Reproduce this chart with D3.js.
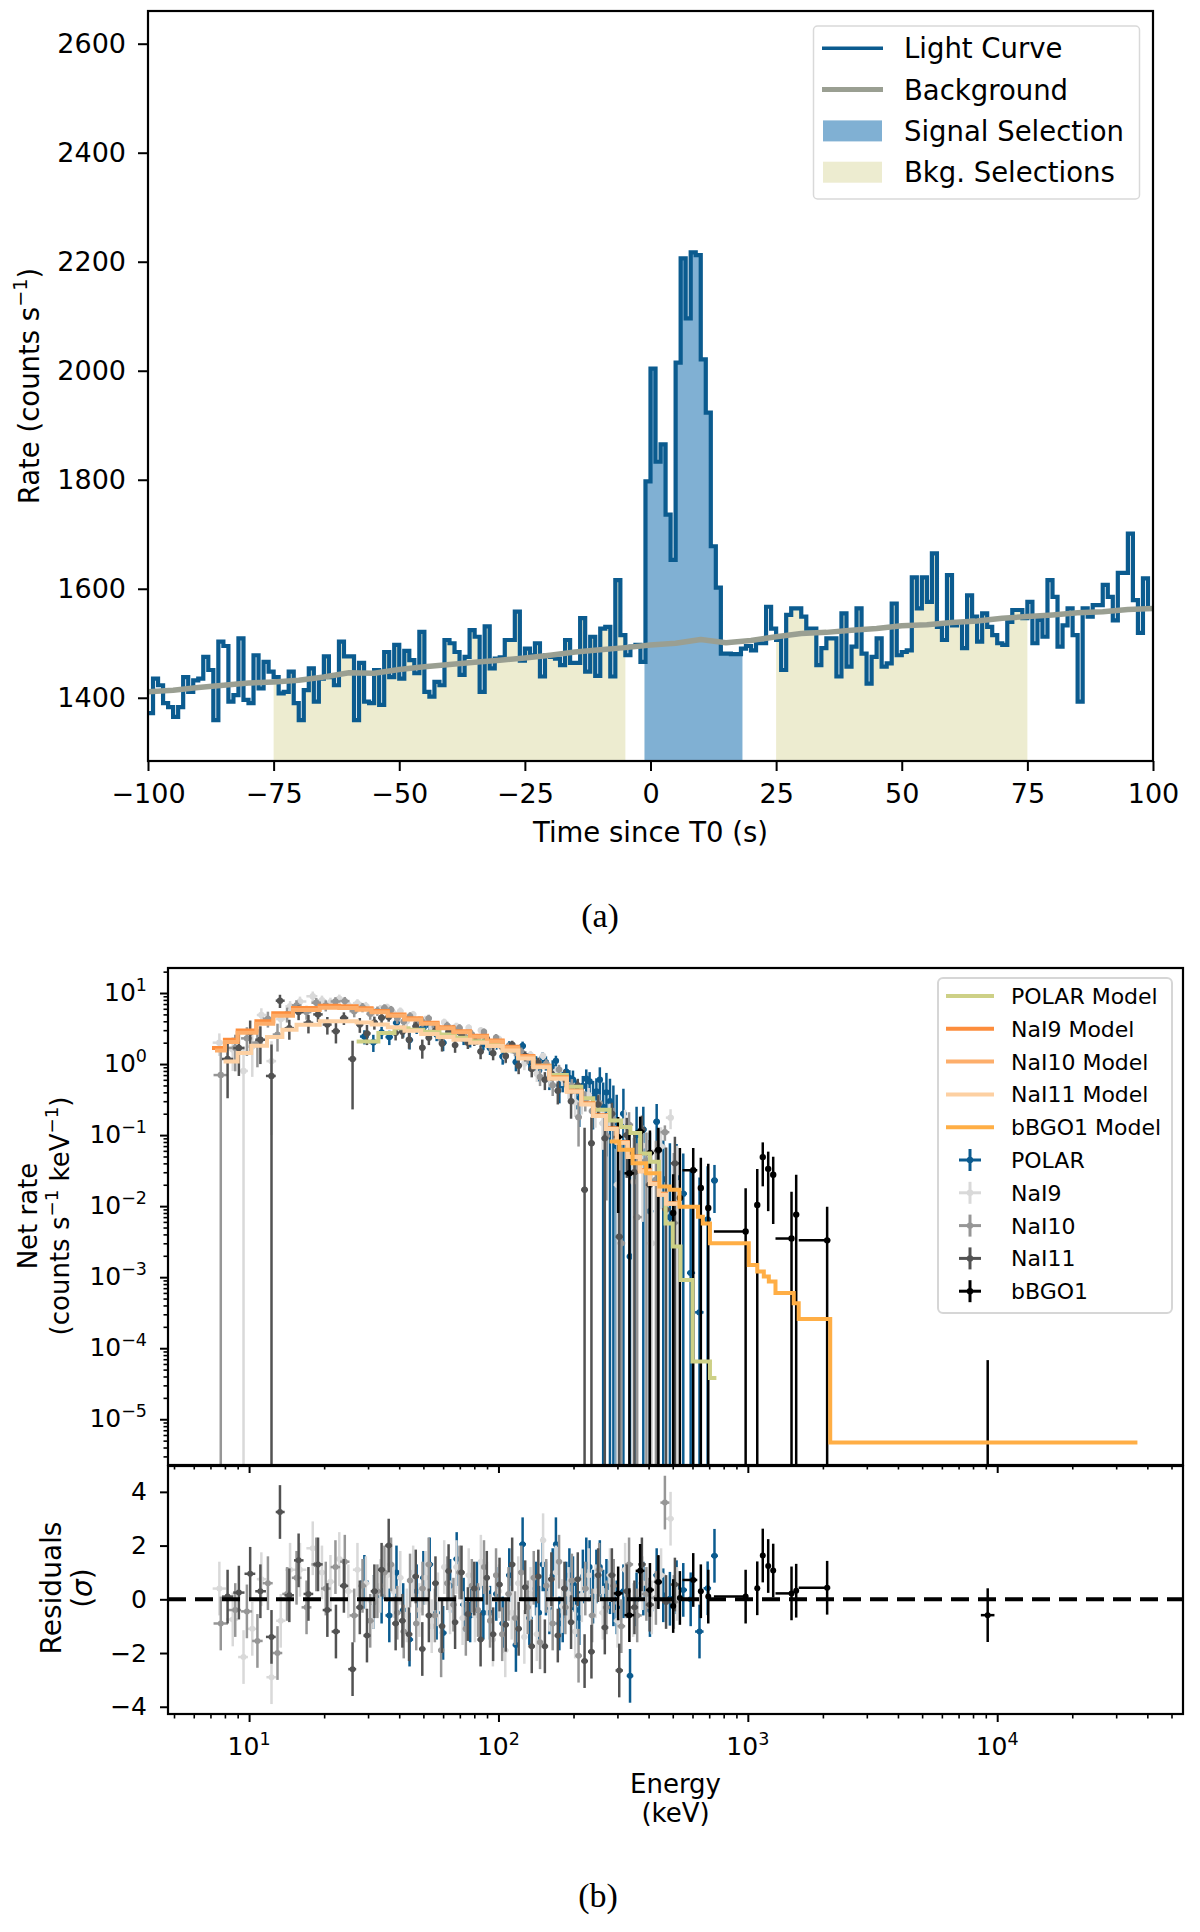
<!DOCTYPE html>
<html>
<head>
<meta charset="utf-8">
<script src="https://cdn.jsdelivr.net/npm/d3@7"></script>
<style>
  body { margin: 0; background: #fff; }
  svg { display: block; }
  text { font-family: "DejaVu Sans", sans-serif; fill: #000; }
  .caption { font-family: "Liberation Serif", "Times New Roman", serif; }
</style>
</head>
<body>
<svg id="fig" width="1200" height="1932"></svg>
<script>
// ---------------- panel (a): light curve ----------------
const lcStart = -100;      // first bin edge (s)
const lcBinWidth = 1;      // s
const lcRate = [
  1372, 1435, 1423, 1390, 1383, 1365, 1383, 1438, 1411, 1432,
  1435, 1475, 1451, 1359, 1503, 1495, 1393, 1405, 1509, 1396,
  1390, 1478, 1417, 1466, 1448, 1438, 1408, 1411, 1448, 1390,
  1359, 1414, 1454, 1393, 1435, 1476, 1438, 1423, 1503, 1476,
  1476, 1359, 1464, 1393, 1390, 1451, 1387, 1484, 1438, 1497,
  1435, 1486, 1469, 1445, 1521, 1411, 1402, 1429, 1423, 1506,
  1500, 1484, 1442, 1475, 1524, 1512, 1411, 1531, 1454, 1472,
  1474, 1506, 1506, 1558, 1468, 1490, 1478, 1500, 1439, 1478,
  1475, 1472, 1460, 1506, 1464, 1464, 1546, 1448, 1512, 1440,
  1527, 1530, 1439, 1616, 1515, 1478, 1494, 1497, 1466, 1797,
  2004, 1833, 1865, 1736, 1653, 2015, 2206, 2096, 2217, 2212,
  2021, 1923, 1678, 1602, 1481, 1481, 1480, 1480, 1490, 1495,
  1487, 1500, 1500, 1567, 1527, 1506, 1451, 1552, 1564, 1564,
  1549, 1527, 1527, 1460, 1491, 1509, 1509, 1439, 1555, 1457,
  1494, 1564, 1481, 1426, 1475, 1509, 1457, 1463, 1573, 1478,
  1484, 1487, 1621, 1564, 1621, 1576, 1665, 1530, 1506, 1625,
  1533, 1539, 1491, 1588, 1549, 1503, 1555, 1530, 1515, 1500,
  1497, 1539, 1561, 1561, 1546, 1576, 1500, 1543, 1512, 1616,
  1585, 1494, 1533, 1564, 1515, 1393, 1564, 1549, 1570, 1570,
  1607, 1585, 1542, 1629, 1629, 1701, 1579, 1519, 1619, 1564
];
const bgTime = [-100, -95, -90, -85, -80, -75, -70, -65, -60, -55, -50, -45, -40, -35, -30, -25, -20, -15, -10, -5,
  0, 5, 10, 15, 20, 25, 30, 35, 40, 45, 50, 55, 60, 65, 70, 75, 80, 85, 90, 95, 100];
const bgRate = [1411, 1414, 1419, 1423, 1427, 1429, 1432, 1438, 1446, 1445, 1452, 1457, 1461, 1465, 1469, 1473, 1478, 1484, 1488, 1492,
  1497, 1500, 1507, 1501, 1505, 1512, 1518, 1520, 1524, 1527, 1532, 1534, 1538, 1541, 1546, 1549, 1552, 1556, 1558, 1562, 1564];
const signalSelection = [-1.2, 18.3];
const bkgSelections = [[-75, -5], [25, 75]];
const timeTicks = [-100, -75, -50, -25, 0, 25, 50, 75, 100];
const rateTicks = [1400, 1600, 1800, 2000, 2200, 2400, 2600];

// ---------------- panel (b): count spectra ----------------
// rows: [energy keV, net rate, rate error, residual sigma]
const polarData = [
  [29, 2.44, 0.55, 0.65], [31.5, 2.03, 0.55, -0.1], [34, 2.79, 0.55, 0.1], [36.5, 2.4, 0.55, -0.6],
  [39, 3.8, 0.6, 1.0], [41.5, 2.96, 0.6, -0.4], [44, 2.18, 0.58, -1.5], [47, 3.2, 0.55, 0.3],
  [50, 3.27, 0.53, 0.8], [53, 3.53, 0.52, 1.3], [56.5, 2.6, 0.5, -0.5], [60, 2.0, 0.48, -1.25],
  [64, 2.83, 0.46, 0.5], [68, 3.0, 0.44, 1.5], [72.5, 2.27, 0.42, -0.2], [77, 2.11, 0.4, -0.6],
  [82, 2.25, 0.38, 0.4], [87, 1.92, 0.36, -0.5], [92.5, 1.68, 0.34, -0.5], [98, 1.91, 0.32, 0.2],
  [104, 1.28, 0.3, -0.9], [110.5, 1.81, 0.29, 0.9], [117.5, 1.07, 0.28, -1.7], [125, 1.8, 0.27, 2.05],
  [133, 1.07, 0.26, -0.7], [141.5, 1.05, 0.24, 0.4], [145.5, 0.82, 0.25, -0.5], [150.5, 1.24, 0.22, 1.3],
  [155, 1.05, 0.24, 0.4], [160, 0.64, 0.21, -0.3], [165, 0.9, 0.23, 0.9], [170, 1.11, 0.2, 2.05],
  [175.5, 0.5, 0.22, -0.9], [181, 0.59, 0.19, -0.6], [187, 0.78, 0.21, 0.4], [192.5, 0.64, 0.18, 0.9],
  [199, 0.6, 0.21, 0.6], [205, 0.41, 0.18, -0.4], [211, 0.33, 0.2, -0.7], [218, 0.49, 0.19, 0.85],
  [225, 0.62, 0.22, 1.3], [232, 0.57, 0.2, 1.2], [239.5, 0.35, 0.23, 0.1], [247, 0.41, 0.22, 0.85],
  [255, 0.6, 0.3, 1.2], [263, 0.25, 0.3, 0.1], [271, 0.4, 0.35, 0.5], [280, 0.3, 0.32, 0.45],
  [289, 0.15, 0.35, 0.0], [298, 0.07, 0.3, -0.3], [317, 0.2, 0.25, 0.3], [337, 0.00195, 0.045, -2.85],
  [358, 0.1, 0.15, 0.0], [381, 0.12, 0.13, 0.4], [405, 0.0085, 0.1, -0.4], [431, 0.154, 0.12, 0.9],
  [458, 0.024, 0.06, 0.15], [487, 0.007, 0.07, 0.02], [518, 0.025, 0.05, 0.45], [551, 0.015, 0.04, 0.35],
  [590, 0.00115, 0.03, 0.0], [640, 0.00032, 0.025, -1.2], [690, 0.0065, 0.03, 0.41], [735, 0.023, 0.015, 1.62]
];
const nai9Data = [
  [7.6, 2.0, 0.7, 0.4], [8.6, 1.6, 0.8, -0.75], [9.5, 0.8, 1.0, -2.15], [10.3, 1.76, 1.1, -1.1],
  [11.2, 4.9, 1.2, 0.75], [12.3, 1.1, 1.0, -2.9], [13.4, 4.3, 1.1, -0.8], [14.6, 6.5, 1.2, 1.1],
  [16.0, 7.6, 1.3, 1.1], [18.0, 9.0, 1.5, 1.9], [19.6, 7.9, 1.3, 1.0], [21.2, 7.4, 1.2, 0.65],
  [23, 8.3, 1.2, 1.5], [25, 6.8, 1.0, 0.3], [27.2, 7.2, 1.0, 1.1], [29.4, 6.6, 0.9, 0.6],
  [31.5, 5.5, 0.85, -0.1], [33.6, 6.0, 0.8, 0.5], [35.8, 6.3, 0.78, 0.9], [38, 5.2, 0.75, 0.3],
  [40.4, 5.56, 0.7, 0.8], [42.9, 4.0, 0.65, -0.6], [45.5, 5.0, 0.6, 1.0], [48.2, 4.17, 0.58, -0.4],
  [51, 4.24, 0.55, 0.8], [54, 3.28, 0.52, -1.0], [57.2, 3.3, 0.5, 0.0], [60.6, 3.88, 0.48, 1.2],
  [64, 3.17, 0.45, -0.3], [67.8, 3.4, 0.42, 1.2], [71.8, 2.62, 0.4, -0.7], [76, 3.24, 0.38, 0.9],
  [80.5, 2.28, 0.36, -0.6], [85, 2.98, 0.34, 1.4], [90, 2.28, 0.32, 0.4], [95, 1.7, 0.3, -1.5],
  [100.5, 2.23, 0.28, 0.3], [106.5, 1.26, 0.26, -1.9], [113, 1.63, 0.24, -0.5], [120, 1.43, 0.22, 0.6],
  [127, 1.02, 0.2, -1.4], [134.5, 1.34, 0.19, 0.2], [142.5, 0.73, 0.17, -1.3], [151, 1.3, 0.16, 2.2],
  [160, 0.62, 0.15, -0.2], [170, 0.79, 0.14, 1.0], [180, 0.62, 0.13, -0.25], [191, 0.44, 0.12, 0.2],
  [203, 0.29, 0.11, -1.2], [216, 0.295, 0.1, 0.15], [230, 0.365, 0.095, 0.9], [245, 0.217, 0.09, 0.3],
  [262, 0.147, 0.085, -0.5], [280, 0.197, 0.08, 0.9], [300, 0.02, 0.075, -0.8], [322, 0.157, 0.07, 1.1],
  [347, 0.022, 0.07, -0.4], [378, 0.071, 0.065, 0.6], [412, 0.003, 0.06, -0.3], [449, 0.069, 0.06, 0.9],
  [490, 0.176, 0.055, 3.0], [520, 0.021, 0.05, 0.2]
];
const nai10Data = [
  [7.7, 0.70, 0.95, -0.9], [8.8, 1.69, 0.9, -0.4], [9.8, 2.3, 1.0, -0.45], [10.8, 2.0, 1.1, -1.55],
  [11.9, 4.36, 1.1, 0.6], [13.0, 2.6, 1.1, -2.0], [14.2, 5.04, 1.2, 0.2], [15.5, 6.7, 1.2, 0.8],
  [17.0, 5.4, 1.2, -0.3], [18.6, 7.3, 1.2, 1.3], [20.3, 6.7, 1.2, 0.4], [22.2, 7.6, 1.15, 1.2],
  [24.2, 7.7, 1.1, 1.4], [26.4, 5.55, 1.0, -0.6], [28.5, 6.3, 0.95, 0.5], [30.6, 5.1, 0.9, -0.8],
  [32.7, 5.6, 0.85, 0.3], [34.9, 6.15, 0.8, 1.0], [37.1, 5.8, 0.78, 1.3], [39.3, 4.43, 0.75, -0.5],
  [41.7, 3.96, 0.7, -1.2], [44.2, 4.7, 0.66, 0.7], [46.8, 3.7, 0.62, -0.9], [49.6, 3.93, 0.58, 0.4],
  [52.5, 4.4, 0.55, 1.3], [55.6, 3.39, 0.52, -0.6], [58.9, 2.25, 0.5, -1.9], [62.3, 3.48, 0.47, 0.6],
  [66, 3.11, 0.45, -0.2], [69.8, 3.22, 0.42, 1.0], [74, 2.36, 0.4, -1.1], [78.2, 2.61, 0.38, 0.5],
  [82.8, 2.28, 0.36, -0.4], [87.5, 2.83, 0.34, 1.2], [92.5, 1.82, 0.32, -0.8], [97.8, 2.35, 0.3, 0.9],
  [103.5, 1.72, 0.28, -1.3], [109.7, 1.75, 0.26, 0.2], [116.5, 1.53, 0.24, -0.7], [123.5, 1.49, 0.22, 1.0],
  [131, 1.21, 0.2, -0.3], [138.5, 1.08, 0.19, 0.8], [146.8, 0.66, 0.17, -1.6], [155.5, 1.01, 0.16, 0.5],
  [165, 0.505, 0.15, -0.9], [175, 0.836, 0.14, 1.4], [185.5, 0.60, 0.13, -0.3], [197, 0.494, 0.12, 0.7],
  [209.5, 0.179, 0.11, -2.1], [223, 0.315, 0.1, 0.4], [237.5, 0.218, 0.095, -0.6], [253.5, 0.284, 0.09, 1.1],
  [271, 0.097, 0.085, -0.3], [290, 0.162, 0.08, 0.5], [311, 0.003, 0.075, -1.0], [334, 0.14, 0.07, 1.3],
  [360, 0.007, 0.07, -0.6], [392, 0.044, 0.065, 0.2], [428, 0.0235, 0.06, 0.05], [465, 0.11, 0.027, 3.6],
  [505, 0.0058, 0.05, -0.1]
];
const nai11Data = [
  [8.2, 1.18, 0.85, 0.1], [9.1, 1.68, 1.0, 0.25], [10.1, 2.8, 1.3, 0.95], [11.1, 2.2, 1.2, 0.3],
  [12.3, 0.68, 1.2, -1.4], [13.3, 7.8, 1.65, 3.25], [14.5, 3.2, 1.0, 0.15], [15.8, 5.4, 1.25, 1.45],
  [17.3, 3.8, 1.1, 0.2], [18.9, 5.0, 1.1, 1.3], [20.6, 3.6, 1.0, -0.4], [22.3, 2.9, 0.95, -1.2],
  [24.0, 4.45, 0.9, 0.5], [26.0, 1.18, 0.95, -2.6], [27.8, 3.6, 0.85, -0.3], [29.7, 2.7, 0.85, -1.35],
  [31.8, 3.85, 0.8, 0.3], [34.0, 4.5, 0.8, 1.1], [36.3, 4.6, 0.65, 2.0], [38.7, 2.75, 0.6, -0.9],
  [41.2, 2.85, 0.58, -0.8], [43.8, 2.2, 0.56, -1.3], [46.6, 3.4, 0.53, 0.85], [49.5, 1.7, 0.51, -1.85],
  [52.6, 2.35, 0.5, -0.6], [55.9, 2.95, 0.48, 0.6], [59.4, 1.95, 0.45, -1.0], [63.1, 2.85, 0.43, 1.05],
  [67, 1.85, 0.41, -0.85], [71.1, 2.6, 0.39, 1.0], [75.4, 2.0, 0.37, -0.55], [80, 2.15, 0.35, 0.4],
  [84.8, 1.5, 0.33, -1.5], [89.8, 2.25, 0.31, 0.8], [95.2, 1.42, 0.29, -1.3], [101, 1.95, 0.28, 0.55],
  [107, 1.3, 0.26, -0.95], [113.5, 1.88, 0.25, 1.3], [120.5, 0.95, 0.23, -1.1], [128, 1.3, 0.21, 0.45],
  [136, 0.85, 0.2, -1.75], [144.5, 1.05, 0.18, 0.85], [153.5, 0.6, 0.17, -1.75], [163, 0.74, 0.16, 0.75],
  [173, 0.42, 0.15, -1.35], [184, 0.68, 0.14, 0.4], [195.5, 0.3, 0.13, -0.85], [208, 0.5, 0.12, 0.75],
  [221.5, 0.017, 0.11, -2.3], [236, 0.077, 0.1, -1.95], [251, 0.27, 0.095, 0.9], [267, 0.09, 0.09, -1.05],
  [285, 0.2, 0.085, 0.9], [305, 0.0037, 0.028, -2.65], [327, 0.1, 0.075, 0.3], [351, 0.03, 0.07, -0.3],
  [376, 0.12, 0.068, 1.3], [404, 0.02, 0.065, -0.2], [436, 0.06, 0.06, 0.65], [470, 0.009, 0.058, -0.1],
  [510, 0.04, 0.055, 0.55]
];
const bgoData = [
  [302, 0.094, 0.086, 0.22], [335, 0.029, 0.09, -0.59], [370, 0.112, 0.07, 1.06], [405, 0.056, 0.06, 0.35],
  [438, 0.062, 0.065, 0.64], [502, 0.008, 0.02, -0.25], [534, 0.013, 0.053, 0.05], [604, 0.032, 0.034, 0.72],
  [648, 0.018, 0.03, 0.3], [694, 0.0094, 0.03, 0.1], [980, 0.0044, 0.0134, 0.1], [1091, 0.0104, 0.023, 0.41],
  [1148, 0.049, 0.03, 1.63], [1207, 0.0335, 0.025, 1.24], [1264, 0.0276, 0.022, 1.07], [1497, 0.0035, 0.0125, 0.22],
  [1563, 0.0076, 0.02, 0.32], [2080, 0.0033, 0.0065, 0.43], [9160, -0.00002, 0.000088, -0.59]
];
const bgoBins = [[290, 315], [320, 350], [355, 385], [390, 420], [425, 452], [490, 515], [522, 547], [547, 627],
  [635, 662], [680, 708], [731, 1000], [1070, 1110], [1130, 1165], [1190, 1225], [1245, 1285], [1291, 1528],
  [1540, 1590], [1600, 2140], [8600, 9750]];

// folded models: step edges (keV) and rate per step
const polarModelEdges = [27, 33, 38.3, 43.6, 50, 58, 67, 78, 90, 104, 120, 138, 160, 188, 215, 240, 279, 310, 338, 370, 405, 440, 468, 500, 537, 600, 705, 748];
const polarModelRate = [2.08, 2.73, 3.2, 3.05, 2.85, 2.6, 2.35, 2.1, 1.85, 1.55, 1.25, 0.95, 0.7, 0.48, 0.33, 0.227, 0.16, 0.13, 0.107, 0.055, 0.042, 0.015, 0.0057, 0.0027, 0.00091, 0.000065, 0.000038];
const naiModelEdges = [7.1, 8.0, 9.0, 10.7, 12.5, 15.0, 19.2, 23, 27, 31, 36, 42, 49, 57, 66, 77, 90, 104, 120, 138, 160, 188, 215, 240, 270, 298, 330, 369, 405, 440, 470, 530];
const nai9ModelRate = [1.68, 2.2, 2.97, 4.0, 5.2, 6.15, 6.6, 6.5, 6.1, 5.6, 5.0, 4.4, 3.8, 3.3, 2.9, 2.5, 2.15, 1.75, 1.3, 0.95, 0.65, 0.42, 0.28, 0.19, 0.125, 0.08, 0.05, 0.032, 0.021, 0.015, 0.011];
const nai10ModelEdges = [7.3, 8.0, 9.0, 10.7, 12.5, 15.0, 19.2, 23, 27, 31, 36, 42, 49, 57, 66, 77, 90, 104, 120, 138, 160, 188, 215, 240, 270, 298, 330, 369, 405, 440, 470, 530];
const nai10ModelRate = [1.55, 2.05, 2.75, 3.7, 4.8, 5.75, 6.2, 6.15, 5.8, 5.35, 4.8, 4.25, 3.7, 3.2, 2.8, 2.42, 2.08, 1.7, 1.27, 0.93, 0.64, 0.41, 0.275, 0.185, 0.122, 0.078, 0.049, 0.031, 0.0205, 0.0145, 0.0108];
const nai11ModelEdges = [7.9, 9.0, 10.2, 11.8, 13.6, 15.5, 19.2, 23, 27, 31, 36, 42, 49, 57, 66, 77, 90, 104, 120, 138, 160, 188, 215, 240, 270, 298, 330, 369, 405, 440, 470, 530];
const nai11ModelRate = [1.09, 1.43, 1.81, 2.4, 3.04, 3.57, 4.0, 4.0, 3.85, 3.6, 3.3, 2.95, 2.65, 2.4, 2.2, 2.0, 1.8, 1.55, 1.2, 0.9, 0.62, 0.41, 0.27, 0.185, 0.122, 0.078, 0.049, 0.031, 0.0205, 0.0145, 0.0108];
const bgoModelEdges = [279, 305, 345, 391, 442, 486, 532, 631, 660, 705, 1009, 1091, 1159, 1214, 1291, 1528, 1600, 2140, 36500];
const bgoModelRate = [0.081, 0.062, 0.040, 0.029, 0.0189, 0.017, 0.0098, 0.0071, 0.0057, 0.0030, 0.00148, 0.0012, 0.00102, 0.00087, 0.0006, 0.00043, 0.000257, 0.0000047];

const energyTicks = [1, 2, 3, 4];       // exponents of 10
const rateTickExp = [-5, -4, -3, -2, -1, 0, 1];
const residTicks = [-4, -2, 0, 2, 4];

// ---------------- drawing ----------------
const svg = d3.select('#fig');
const blue = '#0b5b8f';

function styleAxis(g, size, width) {
  g.attr('font-family', null).attr('font-size', null);
  g.select('.domain').remove();
  g.selectAll('.tick line').attr('stroke', '#000').attr('stroke-width', width);
  g.selectAll('.tick text').style('font-size', size + 'px').attr('fill', '#000');
}

function supText(sel, parts, size) {
  let raised = false;
  parts.forEach(([s, sup]) => {
    const ts = sel.append('tspan').text(s);
    if (sup) {
      ts.style('font-size', (0.7 * size) + 'px');
      if (!raised) { ts.attr('dy', -0.42 * size); raised = true; }
    } else if (raised) {
      ts.attr('dy', 0.42 * size); raised = false;
    }
  });
}

// ===== panel (a) =====
const A = {left: 148, right: 1153, top: 11, bottom: 761};
const xa = d3.scaleLinear([-100, 100], [A.left, A.right]);
const ya = d3.scaleLinear([1284, 2660], [A.bottom, A.top]);

const ga = svg.append('g');
ga.append('clipPath').attr('id', 'clip-a').append('rect')
  .attr('x', A.left).attr('y', A.top).attr('width', A.right - A.left).attr('height', A.bottom - A.top);
const pa = ga.append('g').attr('clip-path', 'url(#clip-a)');

function lcSegment(t0, t1) {
  const pts = [];
  lcRate.forEach((v, i) => {
    const a = lcStart + i * lcBinWidth, b = a + lcBinWidth;
    if (b > t0 && a < t1) pts.push([Math.max(a, t0), v]);
  });
  pts.push([t1, pts[pts.length - 1][1]]);
  return pts;
}
const lcArea = d3.area().x(d => xa(d[0])).y0(A.bottom).y1(d => ya(d[1])).curve(d3.curveStepAfter);
const lcLine = d3.line().x(d => xa(d[0])).y(d => ya(d[1])).curve(d3.curveStepAfter);

bkgSelections.forEach(([a, b]) => {
  pa.append('path').attr('d', lcArea(lcSegment(a, b))).attr('fill', '#edecd0');
});
pa.append('path').attr('d', lcArea(lcSegment(signalSelection[0], signalSelection[1]))).attr('fill', '#80b0d3');

pa.append('path').attr('d', lcLine(lcSegment(-100, 100))).attr('fill', 'none')
  .attr('stroke', blue).attr('stroke-width', 4.2).attr('stroke-linejoin', 'miter');

pa.append('path')
  .attr('d', d3.line().x((d, i) => xa(bgTime[i])).y(d => ya(d))(bgRate))
  .attr('fill', 'none').attr('stroke', '#9a9f92').attr('stroke-width', 5.5)
  .attr('stroke-linejoin', 'round').attr('stroke-linecap', 'round');

ga.append('g').attr('transform', `translate(0,${A.bottom})`)
  .call(d3.axisBottom(xa).tickValues(timeTicks).tickSize(10).tickPadding(12.5).tickFormat(d3.format('d')))
  .call(g => styleAxis(g, 27, 2));
ga.append('g').attr('transform', `translate(${A.left},0)`)
  .call(d3.axisLeft(ya).tickValues(rateTicks).tickSize(10).tickPadding(12).tickFormat(d3.format('d')))
  .call(g => styleAxis(g, 27, 2));
ga.append('rect').attr('x', A.left).attr('y', A.top).attr('width', A.right - A.left).attr('height', A.bottom - A.top)
  .attr('fill', 'none').attr('stroke', '#000').attr('stroke-width', 2.2);

ga.append('text').attr('x', (A.left + A.right) / 2).attr('y', 842).attr('text-anchor', 'middle')
  .style('font-size', '27.5px').text('Time since T0 (s)');
supText(ga.append('text').attr('transform', 'translate(39,386) rotate(-90)').attr('text-anchor', 'middle')
  .style('font-size', '27.5px'), [['Rate (counts s', false], ['\u22121', true], [')', false]], 27.5);

// legend (a)
const legA = ga.append('g');
legA.append('rect').attr('x', 813.5).attr('y', 26).attr('width', 326).attr('height', 173).attr('rx', 4)
  .attr('fill', '#fff').attr('fill-opacity', 0.8).attr('stroke', '#d9d9d9').attr('stroke-width', 1.5);
const legAItems = [
  {label: 'Light Curve', kind: 'line', color: blue, w: 3.5},
  {label: 'Background', kind: 'line', color: '#9a9f92', w: 5},
  {label: 'Signal Selection', kind: 'patch', color: '#80b0d3'},
  {label: 'Bkg. Selections', kind: 'patch', color: '#edecd0'}
];
legAItems.forEach((it, i) => {
  const y = 48.3 + i * 41.3;
  if (it.kind === 'line') {
    legA.append('line').attr('x1', 822).attr('x2', 883).attr('y1', y).attr('y2', y)
      .attr('stroke', it.color).attr('stroke-width', it.w);
  } else {
    legA.append('rect').attr('x', 823).attr('y', y - 10.5).attr('width', 59).attr('height', 21).attr('fill', it.color);
  }
  legA.append('text').attr('x', 904).attr('y', y + 10).style('font-size', '27.5px').text(it.label);
});

svg.append('text').attr('class', 'caption').attr('x', 600).attr('y', 927).attr('text-anchor', 'middle')
  .style('font-size', '34px').text('(a)');

// ===== panel (b) =====
const B = {left: 168, right: 1183, top: 968, mid: 1465, bottom: 1714};
const xb = d3.scaleLog([4.73, 55600], [B.left, B.right]);
const yb = d3.scaleLog([2.27e-6, 22.5], [B.mid, B.top]);
const yr = d3.scaleLinear([-4.27, 5.0], [B.bottom, B.mid]);

const gb = svg.append('g');
gb.append('clipPath').attr('id', 'clip-b1').append('rect')
  .attr('x', B.left).attr('y', B.top).attr('width', B.right - B.left).attr('height', B.mid - B.top);
gb.append('clipPath').attr('id', 'clip-b2').append('rect')
  .attr('x', B.left).attr('y', B.mid).attr('width', B.right - B.left).attr('height', B.bottom - B.mid);
const pTop = gb.append('g').attr('clip-path', 'url(#clip-b1)');
const pRes = gb.append('g').attr('clip-path', 'url(#clip-b2)');

function withBins(rows, bins) {
  return rows.map((d, i) => {
    let lo, hi;
    if (bins) { [lo, hi] = bins[i]; }
    else {
      const prev = i > 0 ? rows[i - 1][0] : d[0] * d[0] / rows[i + 1][0];
      const next = i < rows.length - 1 ? rows[i + 1][0] : d[0] * d[0] / rows[i - 1][0];
      lo = Math.sqrt(prev * d[0]); hi = Math.sqrt(d[0] * next);
    }
    return {e: d[0], rate: d[1], err: d[2], resid: d[3], lo, hi};
  });
}

const detectors = [
  {label: 'POLAR', color: blue, rows: withBins(polarData)},
  {label: 'NaI9', color: '#d9d9d9', rows: withBins(nai9Data)},
  {label: 'NaI10', color: '#969696', rows: withBins(nai10Data)},
  {label: 'NaI11', color: '#525252', rows: withBins(nai11Data)},
  {label: 'bBGO1', color: '#000000', rows: withBins(bgoData, bgoBins)}
];
const models = [
  {label: 'POLAR Model', color: '#cdd086', edges: polarModelEdges, rate: polarModelRate},
  {label: 'NaI9 Model', color: '#fd8d3c', edges: naiModelEdges, rate: nai9ModelRate},
  {label: 'NaI10 Model', color: '#fdae6b', edges: nai10ModelEdges, rate: nai10ModelRate},
  {label: 'NaI11 Model', color: '#fdd0a2', edges: nai11ModelEdges, rate: nai11ModelRate},
  {label: 'bBGO1 Model', color: '#ffae45', edges: bgoModelEdges, rate: bgoModelRate}
];

const yMin = yb.domain()[0];
const yTop = v => v > yMin ? yb(v) : B.mid + 20;

detectors.forEach(det => {
  const g = pTop.append('g').attr('stroke', det.color).attr('fill', det.color);
  g.selectAll('line.v').data(det.rows).join('line').attr('class', 'v')
    .attr('x1', d => xb(d.e)).attr('x2', d => xb(d.e))
    .attr('y1', d => yTop(d.rate - d.err)).attr('y2', d => yTop(d.rate + d.err))
    .attr('stroke-width', 2.5);
  const shown = det.rows.filter(d => d.rate > 0);
  g.selectAll('line.h').data(shown).join('line').attr('class', 'h')
    .attr('x1', d => xb(d.lo)).attr('x2', d => xb(d.hi))
    .attr('y1', d => yb(d.rate)).attr('y2', d => yb(d.rate))
    .attr('stroke-width', 2.5);
  g.selectAll('circle').data(shown).join('circle')
    .attr('cx', d => xb(d.e)).attr('cy', d => yb(d.rate)).attr('r', 3.2).attr('stroke', 'none');

  const r = pRes.append('g').attr('stroke', det.color).attr('fill', det.color);
  r.selectAll('line.v').data(det.rows).join('line').attr('class', 'v')
    .attr('x1', d => xb(d.e)).attr('x2', d => xb(d.e))
    .attr('y1', d => yr(d.resid - 1)).attr('y2', d => yr(d.resid + 1))
    .attr('stroke-width', 2.5);
  r.selectAll('line.h').data(det.rows).join('line').attr('class', 'h')
    .attr('x1', d => xb(d.lo)).attr('x2', d => xb(d.hi))
    .attr('y1', d => yr(d.resid)).attr('y2', d => yr(d.resid))
    .attr('stroke-width', 2.5);
  r.selectAll('circle').data(det.rows).join('circle')
    .attr('cx', d => xb(d.e)).attr('cy', d => yr(d.resid)).attr('r', 3).attr('stroke', 'none');
});

const stepLine = d3.line().x(d => xb(d[0])).y(d => yb(d[1])).curve(d3.curveStepAfter);
models.forEach(m => {
  const pts = m.edges.map((e, i) => [e, m.rate[Math.min(i, m.rate.length - 1)]]);
  pTop.append('path').attr('d', stepLine(pts)).attr('fill', 'none')
    .attr('stroke', m.color).attr('stroke-width', 4);
});

pRes.append('line').attr('x1', B.left).attr('x2', B.right).attr('y1', yr(0)).attr('y2', yr(0))
  .attr('stroke', '#000').attr('stroke-width', 4).attr('stroke-dasharray', '18,9');

// axes (b)
const minorE = [];
for (let d = 0; d <= 4; d++) for (let k = 2; k <= 9; k++) {
  const v = k * Math.pow(10, d);
  if (v > xb.domain()[0] && v < xb.domain()[1]) minorE.push(v);
}
const majorE = energyTicks.map(p => Math.pow(10, p));
const minorR = [];
for (let d = -6; d <= 1; d++) for (let k = 2; k <= 9; k++) {
  const v = k * Math.pow(10, d);
  if (v > yb.domain()[0] && v < yb.domain()[1]) minorR.push(v);
}
const majorR = rateTickExp.map(p => Math.pow(10, p));

[B.mid, B.bottom].forEach(y0 => {
  gb.append('g').attr('transform', `translate(0,${y0})`)
    .call(d3.axisBottom(xb).tickValues(majorE).tickSize(8).tickFormat(''))
    .call(g => styleAxis(g, 25, 2));
  gb.append('g').attr('transform', `translate(0,${y0})`)
    .call(d3.axisBottom(xb).tickValues(minorE).tickSize(4.5).tickFormat(''))
    .call(g => styleAxis(g, 25, 1.6));
});
gb.append('g').attr('transform', `translate(${B.left},0)`)
  .call(d3.axisLeft(yb).tickValues(majorR).tickSize(8).tickFormat(''))
  .call(g => styleAxis(g, 25, 2));
gb.append('g').attr('transform', `translate(${B.left},0)`)
  .call(d3.axisLeft(yb).tickValues(minorR).tickSize(4.5).tickFormat(''))
  .call(g => styleAxis(g, 25, 1.6));
gb.append('g').attr('transform', `translate(${B.left},0)`)
  .call(d3.axisLeft(yr).tickValues(residTicks).tickSize(8).tickPadding(13).tickFormat(d3.format('d')))
  .call(g => styleAxis(g, 25, 2));

function powLabel(x, y, exp, anchor) {
  const t = gb.append('text').attr('x', x).attr('y', y).attr('text-anchor', anchor).style('font-size', '25px');
  t.append('tspan').text('10');
  t.append('tspan').attr('dy', -10.5).style('font-size', '17.5px').text(exp < 0 ? '\u2212' + (-exp) : String(exp));
}
energyTicks.forEach(p => powLabel(xb(Math.pow(10, p)), 1755, p, 'middle'));
rateTickExp.forEach(p => powLabel(147, yb(Math.pow(10, p)) + 8, p, 'end'));

gb.append('rect').attr('x', B.left).attr('y', B.top).attr('width', B.right - B.left).attr('height', B.mid - B.top)
  .attr('fill', 'none').attr('stroke', '#000').attr('stroke-width', 2.2);
gb.append('rect').attr('x', B.left).attr('y', B.mid + 1).attr('width', B.right - B.left).attr('height', B.bottom - B.mid - 1)
  .attr('fill', 'none').attr('stroke', '#000').attr('stroke-width', 2.2);

// axis labels (b)
const midX = (B.left + B.right) / 2;
gb.append('text').attr('x', midX).attr('y', 1793).attr('text-anchor', 'middle').style('font-size', '26px').text('Energy');
gb.append('text').attr('x', midX).attr('y', 1822).attr('text-anchor', 'middle').style('font-size', '26px').text('(keV)');
gb.append('text').attr('transform', 'translate(37,1216) rotate(-90)').attr('text-anchor', 'middle')
  .style('font-size', '26px').text('Net rate');
supText(gb.append('text').attr('transform', 'translate(69,1216) rotate(-90)').attr('text-anchor', 'middle')
  .style('font-size', '26px'),
  [['(counts s', false], ['\u22121', true], [' keV', false], ['\u22121', true], [')', false]], 26);
gb.append('text').attr('transform', 'translate(61,1588) rotate(-90)').attr('text-anchor', 'middle')
  .style('font-size', '28px').text('Residuals');
const sig = gb.append('text').attr('transform', 'translate(92,1588) rotate(-90)').attr('text-anchor', 'middle')
  .style('font-size', '28px');
sig.append('tspan').text('(');
sig.append('tspan').style('font-style', 'italic').text('\u03c3');
sig.append('tspan').text(')');

// legend (b)
const legB = gb.append('g');
legB.append('rect').attr('x', 938).attr('y', 978).attr('width', 234).attr('height', 335).attr('rx', 5)
  .attr('fill', '#fff').attr('fill-opacity', 0.8).attr('stroke', '#d6d6d6').attr('stroke-width', 2);
models.forEach((m, i) => {
  const y = 996 + i * 32.8;
  legB.append('line').attr('x1', 946).attr('x2', 994).attr('y1', y).attr('y2', y)
    .attr('stroke', m.color).attr('stroke-width', 4);
  legB.append('text').attr('x', 1011).attr('y', y + 8).style('font-size', '22px').text(m.label);
});
detectors.forEach((det, i) => {
  const y = 996 + (i + 5) * 32.8;
  const g = legB.append('g').attr('stroke', det.color).attr('fill', det.color);
  g.append('line').attr('x1', 959).attr('x2', 981).attr('y1', y).attr('y2', y).attr('stroke-width', 3);
  g.append('line').attr('x1', 970).attr('x2', 970).attr('y1', y - 11).attr('y2', y + 11).attr('stroke-width', 3);
  g.append('circle').attr('cx', 970).attr('cy', y).attr('r', 3.2).attr('stroke', 'none');
  legB.append('text').attr('x', 1011).attr('y', y + 8).style('font-size', '22px').text(det.label);
});

svg.append('text').attr('class', 'caption').attr('x', 598).attr('y', 1907).attr('text-anchor', 'middle')
  .style('font-size', '34px').text('(b)');
</script>
</body>
</html>
